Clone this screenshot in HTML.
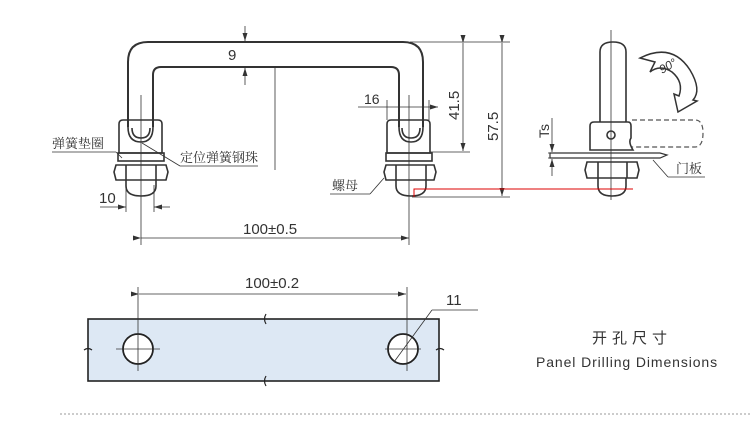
<!DOCTYPE html>
<html><head><meta charset="utf-8"><style>
html,body{margin:0;padding:0;background:#fff;}
svg{display:block;}
text{font-family:"Liberation Sans","Noto Sans CJK SC",sans-serif;fill:#333;}
.cn{font-family:"Noto Serif CJK SC","Noto Sans CJK SC",serif;}
</style></head><body>
<svg width="750" height="425" viewBox="0 0 750 425" xmlns="http://www.w3.org/2000/svg">
<defs>
<marker id="a" markerWidth="8" markerHeight="6" refX="8" refY="3" orient="auto" markerUnits="userSpaceOnUse"><path d="M0,0.5 L8,3 L0,5.5z" fill="#333"/></marker>
</defs>
<g fill="none" stroke="#333" stroke-width="1.6">
<path d="M128,127 V62 Q128,42 148,42 H403 Q423,42 423,62 V127" stroke-width="2"/>
<path d="M153,127 V75 Q153,67 161,67 H391 Q399,67 399,75 V127" stroke-width="2"/>
<path d="M119,153 V124 Q119,120 123,120 H158 Q162,120 162,124 V153 Z"/>
<path d="M128,127 Q128,142 141,142 Q153,142 153,127"/>
<path d="M132,128 Q132,138 141,138 Q150,138 150,128"/>
<rect x="118" y="153" width="46" height="8"/>
<path d="M116,165 H166 L168,172 L166,180 H116 L114,172 Z"/>
<line x1="126" y1="165" x2="126" y2="180"/><line x1="156" y1="165" x2="156" y2="180"/>
<path d="M126,180 V186 Q126,196 141,196 Q156,196 156,186 V180"/>
<path d="M387,153 V124 Q387,120 391,120 H426 Q430,120 430,124 V153 Z"/>
<path d="M399,127 Q399,142 411,142 Q423,142 423,127"/>
<path d="M402,128 Q402,138 411,138 Q420,138 420,128"/>
<rect x="386" y="153" width="46" height="8"/>
<path d="M386,165 H434 L436,172 L434,180 H386 L384,172 Z"/>
<line x1="396" y1="165" x2="396" y2="180"/><line x1="426" y1="165" x2="426" y2="180"/>
<path d="M396,180 V186 Q396,196 411,196 Q426,196 426,186 V180"/>
<path d="M600,122 V52 Q600,42 613,42 Q626,42 626,52 V122"/>
<path d="M590,150 V126 Q590,122 594,122 H628 Q631,122 631,126 V138 Q628,142 633,150 Z"/>
<circle cx="611" cy="135" r="4"/>
<path d="M550,153 H660 L667,155 L660,158 H550 Z" stroke-width="1.2"/>
<path d="M587,162 H637 L639,170 L637,178 H587 L585,170 Z"/>
<line x1="598" y1="162" x2="598" y2="178"/><line x1="627" y1="162" x2="627" y2="178"/>
<path d="M598,178 V186 Q598,196 612,196 Q626,196 626,186 V178"/>
</g>
<path d="M632,120 H695 Q703,120 703,133 Q703,147 695,147 H632" fill="none" stroke="#555" stroke-width="1.2" stroke-dasharray="5,3"/>
<path d="M640,58 Q672,42 690,70 Q702,90 693,100 L697,101 L678,112 L674,94 L679,96 Q684,82 672,72 Q660,64 650,72 L655,62 Z" fill="#fff" stroke="#333" stroke-width="1.5"/>
<text x="662" y="74" font-size="12" font-style="italic" transform="rotate(-30 662 74)">90°</text>
<g stroke="#333" stroke-width="0.8" fill="none">
<line x1="141" y1="95" x2="141" y2="245"/><line x1="409" y1="95" x2="409" y2="245"/>
<line x1="611" y1="30" x2="611" y2="200"/>
<line x1="275" y1="68" x2="275" y2="170"/>
<line x1="245" y1="26" x2="245" y2="41" marker-end="url(#a)"/><line x1="245" y1="85" x2="245" y2="68" marker-end="url(#a)"/>
<line x1="141" y1="238" x2="409" y2="238" marker-start="url(#a)" marker-end="url(#a)"/>
<line x1="410" y1="42" x2="510" y2="42"/><line x1="430" y1="152" x2="470" y2="152"/><line x1="412" y1="197" x2="510" y2="197"/>
<line x1="463" y1="43" x2="463" y2="151" marker-start="url(#a)" marker-end="url(#a)"/>
<line x1="502" y1="43" x2="502" y2="196" marker-start="url(#a)" marker-end="url(#a)"/>
<line x1="358" y1="107" x2="438" y2="107" marker-end="url(#a)"/>
<line x1="387" y1="100" x2="387" y2="120"/><line x1="429" y1="100" x2="429" y2="120"/>
<line x1="100" y1="207" x2="126" y2="207" marker-end="url(#a)"/><line x1="170" y1="207" x2="154" y2="207" marker-end="url(#a)"/>
<line x1="126" y1="185" x2="126" y2="212"/><line x1="154" y1="185" x2="154" y2="212"/>
<line x1="52" y1="152" x2="116" y2="152"/><line x1="116" y1="152" x2="122" y2="158"/>
<line x1="142" y1="143" x2="180" y2="166"/><line x1="180" y1="166" x2="258" y2="166"/>
<line x1="330" y1="194" x2="370" y2="194"/><line x1="370" y1="194" x2="384" y2="178"/>
<line x1="552" y1="118" x2="552" y2="152" marker-end="url(#a)"/><line x1="552" y1="176" x2="552" y2="159" marker-end="url(#a)"/>
<line x1="548" y1="153" x2="556" y2="153"/><line x1="548" y1="158" x2="556" y2="158"/>
<line x1="653" y1="160" x2="668" y2="177"/><line x1="668" y1="177" x2="705" y2="177"/>
</g>
<path d="M414,197 V189 H633" fill="none" stroke="#d00" stroke-width="1"/>
<text x="228" y="60" font-size="15">9</text>
<text x="364" y="104" font-size="14">16</text>
<text x="99" y="203" font-size="15">10</text>
<text x="243" y="234" font-size="15">100±0.5</text>
<text x="459" y="120" font-size="15" transform="rotate(-90 459 120)">41.5</text>
<text x="498" y="141" font-size="15" transform="rotate(-90 498 141)">57.5</text>
<text x="549" y="138" font-size="14" transform="rotate(-90 549 138)">Ts</text>
<text class="cn" x="52" y="148" font-size="13">弹簧垫圈</text>
<text class="cn" x="180" y="162" font-size="13">定位弹簧钢珠</text>
<text class="cn" x="332" y="190" font-size="13">螺母</text>
<text class="cn" x="676" y="173" font-size="13">门板</text>
<rect x="88" y="319" width="351" height="62" fill="#dde8f4" stroke="#222" stroke-width="1.6"/>
<g stroke="#222" stroke-width="1.2" fill="none">
<path d="M266,314 q-3,5 0,10"/><path d="M266,376 q-3,5 0,10"/>
<path d="M84,350 q4,-3 8,0"/><path d="M436,350 q4,-3 8,0"/>
</g>
<circle cx="138" cy="349" r="15" fill="#fff" stroke="#222" stroke-width="1.8"/>
<circle cx="403" cy="349" r="15" fill="#fff" stroke="#222" stroke-width="1.8"/>
<g stroke="#333" stroke-width="0.8" fill="none">
<line x1="116" y1="349" x2="160" y2="349"/><line x1="138" y1="287" x2="138" y2="371"/>
<line x1="385" y1="349" x2="421" y2="349"/><line x1="407" y1="287" x2="407" y2="371"/>
<line x1="139" y1="294" x2="406" y2="294" marker-start="url(#a)" marker-end="url(#a)"/>
<line x1="394" y1="362" x2="432" y2="310"/><line x1="432" y1="310" x2="478" y2="310"/>
</g>
<text x="245" y="288" font-size="15">100±0.2</text>
<text x="446" y="305" font-size="15">11</text>
<line x1="60" y1="414" x2="750" y2="414" stroke="#999" stroke-width="1" stroke-dasharray="2,2"/>
<text x="592" y="343" font-size="15" letter-spacing="5">开孔尺寸</text>
<text x="536" y="367" font-size="14" letter-spacing="0.9">Panel Drilling Dimensions</text>
</svg>
</body></html>
